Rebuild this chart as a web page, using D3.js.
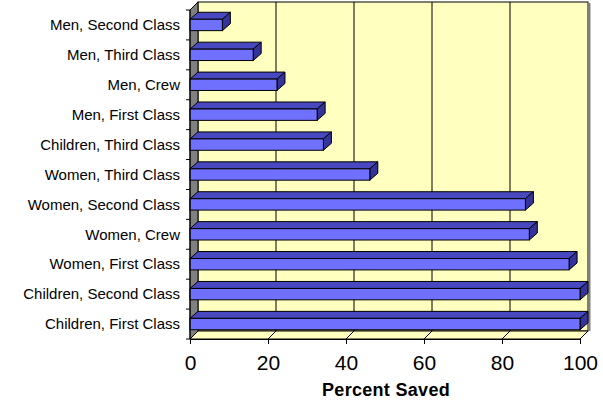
<!DOCTYPE html>
<html>
<head>
<meta charset="utf-8">
<script src="https://cdn.jsdelivr.net/npm/d3@7"></script>
<style>
  body { margin: 0; background: #fff; }
  svg { display: block; }
  text { font-family: "Liberation Sans", Arial, sans-serif; fill: #000; }
</style>
</head>
<body>
<svg width="603" height="400"></svg>
<script>
// categories from top to bottom
const categories = [
    "Men, Second Class", "Men, Third Class", "Men, Crew", "Men, First Class",
    "Children, Third Class", "Women, Third Class", "Women, Second Class",
    "Women, Crew", "Women, First Class", "Children, Second Class", "Children, First Class"
];
const percentSaved = [8.3, 16.2, 22.3, 32.6, 34.2, 46.1, 86.0, 87.0, 97.2, 100, 100];
const xTicks = [0, 20, 40, 60, 80, 100];
const xTitle = "Percent Saved";

const svg = d3.select('svg');

const chartMargins = { left: 190, right: 23, top: 10, bottom: 61 };
const w = 603 - chartMargins.left - chartMargins.right;
const h = 400 - chartMargins.top - chartMargins.bottom;

// depth offset of the back wall / bars
const dx = 8, dy = -8;
const bdx = 8, bdy = -7;

const xScale = d3.scaleLinear().domain([0, 100]).range([0, w]);
const yScale = d3.scaleBand().domain(categories).range([0, h]);
const barH = yScale.bandwidth() * 0.38;

const g = svg.append('g')
    .attr('transform', `translate(${chartMargins.left},${chartMargins.top})`);

//#region walls
// back wall
g.append('rect')
    .attr('x', dx).attr('y', dy)
    .attr('width', w).attr('height', h)
    .attr('fill', '#ffffc0')
    .attr('stroke', '#000').attr('stroke-width', 1);

// floor
g.append('path')
    .attr('d', `M0,${h} L${w},${h} L${w + dx},${h + dy} L${dx},${h + dy} Z`)
    .attr('fill', '#ffffc0')
    .attr('stroke', '#000').attr('stroke-width', 1);

// left wall
g.append('path')
    .attr('d', `M0,0 L${dx},${dy} L${dx},${h + dy} L0,${h} Z`)
    .attr('fill', '#808080')
    .attr('stroke', '#000').attr('stroke-width', 1);

// right shadow edge
g.append('line')
    .attr('x1', w + dx + 1.5).attr('x2', w + dx + 1.5)
    .attr('y1', dy + 1).attr('y2', h + dy)
    .attr('stroke', '#808080').attr('stroke-width', 2);

// gridlines on back wall and floor
const grid = g.append('g');
xTicks.slice(1, -1).forEach(t => {
    grid.append('path')
        .attr('d', `M${xScale(t) + dx},${dy} L${xScale(t) + dx},${h + dy} L${xScale(t)},${h}`)
        .attr('fill', 'none')
        .attr('stroke', '#000').attr('stroke-width', 1);
});
//#endregion

//#region bars
const bars = g.selectAll('g.bar')
    .data(categories.map((c, i) => ({ name: c, value: percentSaved[i] })))
    .enter()
    .append('g')
    .classed('bar', true)
    .attr('transform', d => `translate(0,${yScale(d.name) + yScale.bandwidth() / 2 - barH / 2})`);

// top face
bars.append('path')
    .attr('d', d => `M0,0 L${bdx},${bdy} L${xScale(d.value) + bdx},${bdy} L${xScale(d.value)},0 Z`)
    .attr('fill', '#4848c0')
    .attr('stroke', '#000').attr('stroke-width', 1).attr('stroke-linejoin', 'round');

// end face
bars.append('path')
    .attr('d', d => {
        const x = xScale(d.value);
        return `M${x},0 L${x + bdx},${bdy} L${x + bdx},${barH + bdy} L${x},${barH} Z`;
    })
    .attr('fill', '#33339a')
    .attr('stroke', '#000').attr('stroke-width', 1).attr('stroke-linejoin', 'round');

// front face
bars.append('rect')
    .attr('x', 0).attr('y', 0)
    .attr('width', d => xScale(d.value))
    .attr('height', barH)
    .attr('fill', '#7070ff')
    .attr('stroke', '#000').attr('stroke-width', 1);
//#endregion

//#region axes
const yAxisG = g.append('g');
// ticks at the band boundaries
const yBounds = categories.map(c => yScale(c)).concat([h]);
yBounds.forEach(y => {
    yAxisG.append('line')
        .attr('x1', -4).attr('x2', 0)
        .attr('y1', y).attr('y2', y)
        .attr('stroke', '#000');
});
yAxisG.append('line')
    .attr('x1', 0).attr('x2', 0).attr('y1', 0).attr('y2', h)
    .attr('stroke', '#000');

// category labels
g.append('g').selectAll('text')
    .data(categories)
    .enter()
    .append('text')
    .attr('x', -10)
    .attr('y', d => yScale(d) + yScale.bandwidth() / 2)
    .attr('dy', '0.35em')
    .attr('text-anchor', 'end')
    .style('font-size', '15px')
    .text(d => d);

const xAxis = d3.axisBottom(xScale).tickValues(xTicks).tickSize(5).tickPadding(11);
const xAxisG = g.append('g')
    .attr('transform', `translate(0,${h})`)
    .call(xAxis);
xAxisG.select('.domain').attr('stroke', '#000');
xAxisG.selectAll('.tick line').attr('stroke', '#000');
xAxisG.selectAll('.tick text')
    .style('font-family', '"Liberation Sans Narrow", "Liberation Sans", sans-serif')
    .style('font-size', '21px')
    .attr('fill', '#000');

g.append('text')
    .attr('x', w / 2 + 1)
    .attr('y', h + 57)
    .attr('text-anchor', 'middle')
    .style('font-size', '18px')
    .style('font-weight', 'bold')
    .style('letter-spacing', '0.3px')
    .text(xTitle);
//#endregion
</script>
</body>
</html>
